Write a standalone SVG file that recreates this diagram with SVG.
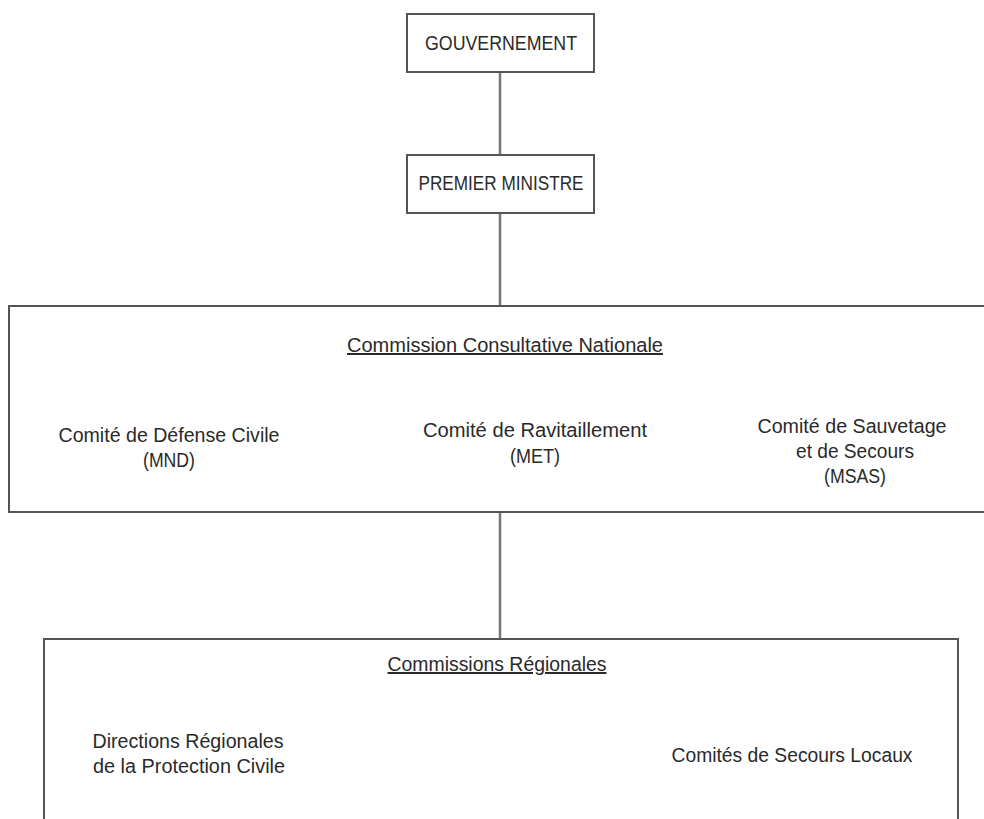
<svg xmlns="http://www.w3.org/2000/svg" width="984" height="819" viewBox="0 0 984 819">
<style>
.box{fill:#fff;stroke:#555;stroke-width:2}
.con{stroke:#777;stroke-width:2.5;fill:none}
text{font-family:"Liberation Sans",Arial,sans-serif;font-size:20px;fill:#2a2a2a;text-anchor:middle}
.u{text-decoration:underline}
</style>
<rect width="984" height="819" fill="#fff"/>
<g id="connectors">
<line class="con" x1="500" y1="72" x2="500" y2="155"/>
<line class="con" x1="500" y1="213" x2="500" y2="306"/>
<line class="con" x1="500" y1="512" x2="500" y2="639"/>
</g>
<g id="gouvernement">
<rect class="box" x="407" y="14" width="187" height="58"/>
<text x="501" y="50" textLength="152" lengthAdjust="spacingAndGlyphs">GOUVERNEMENT</text>
</g>
<g id="premier-ministre">
<rect class="box" x="407" y="155" width="187" height="58"/>
<text x="501" y="190" textLength="165" lengthAdjust="spacingAndGlyphs">PREMIER MINISTRE</text>
</g>
<g id="commission-nationale">
<rect class="box" x="9" y="306" width="1000" height="206"/>
<text class="u" x="505" y="352" textLength="316" lengthAdjust="spacingAndGlyphs">Commission Consultative Nationale</text>
<text x="169" y="442" textLength="221" lengthAdjust="spacingAndGlyphs">Comité de Défense Civile</text>
<text x="169" y="467" textLength="52" lengthAdjust="spacingAndGlyphs">(MND)</text>
<text x="535" y="437" textLength="224" lengthAdjust="spacingAndGlyphs">Comité de Ravitaillement</text>
<text x="535" y="463" textLength="50" lengthAdjust="spacingAndGlyphs">(MET)</text>
<text x="852" y="433" textLength="189" lengthAdjust="spacingAndGlyphs">Comité de Sauvetage</text>
<text x="855" y="458" textLength="118" lengthAdjust="spacingAndGlyphs">et de Secours</text>
<text x="855" y="483" textLength="62" lengthAdjust="spacingAndGlyphs">(MSAS)</text>
</g>
<g id="commissions-regionales">
<rect class="box" x="44" y="639" width="914" height="200"/>
<text class="u" x="497" y="671" textLength="219" lengthAdjust="spacingAndGlyphs">Commissions Régionales</text>
<text x="188" y="748" textLength="191" lengthAdjust="spacingAndGlyphs">Directions Régionales</text>
<text x="189" y="773" textLength="192" lengthAdjust="spacingAndGlyphs">de la Protection Civile</text>
<text x="792" y="762" textLength="241" lengthAdjust="spacingAndGlyphs">Comités de Secours Locaux</text>
</g>
</svg>
